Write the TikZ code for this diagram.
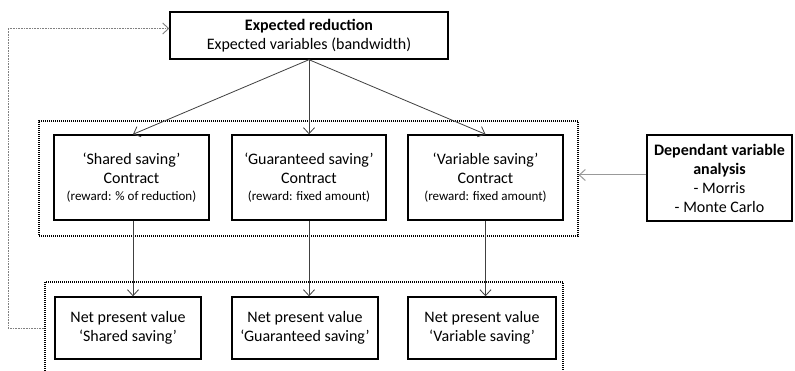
\documentclass[tikz,border=0pt]{standalone}
\usepackage{fontspec}
\setmainfont{Carlito}
\usetikzlibrary{arrows.meta}
\begin{document}
\begin{tikzpicture}[x=1pt,y=-1pt,
  box/.style={draw=black,line width=1.4pt,align=center,inner sep=0pt,
    font=\fontsize{16}{19}\selectfont},
  cont/.style={draw=black,line width=1.2pt,dash pattern=on 1pt off 1pt,inner sep=0pt},
  conn/.style={draw=black!75,line width=0.8pt,-{Straight Barb[length=6pt,width=11pt]}},
  gconn/.style={draw=black!40,line width=1pt,-{Straight Barb[length=6pt,width=11pt]}},
  fb/.style={draw=black!50,line width=0.9pt,dash pattern=on 1pt off 0.6pt,-{Straight Barb[length=6pt,width=11pt]}},
  sm/.style={}]
\useasboundingbox (0,0) rectangle (795,371);
\fill[white] (0,0) rectangle (795,371);
% containers
\node[cont,minimum width=539pt,minimum height=115pt] (c1) at (308.5,178.5) {};
\node[cont,minimum width=518pt,minimum height=120pt] (c2) at (304,342) {};
% top
\node[box,minimum width=278pt,minimum height=47pt] (top) at (309,35.5)
  {\textbf{Expected reduction}\\Expected variables (bandwidth)};
% contracts
\node[box,minimum width=155pt,minimum height=85pt] (sc) at (131.5,177.5)
  {‘Shared saving’\\Contract\\[-2pt]{\fontsize{13}{16}\selectfont (reward: \% of reduction)}};
\node[box,minimum width=154pt,minimum height=85pt] (gc) at (309,177.5)
  {‘Guaranteed saving’\\Contract\\[-2pt]{\fontsize{13}{16}\selectfont (reward: fixed amount)}};
\node[box,minimum width=155pt,minimum height=85pt] (vc) at (485.5,177.5)
  {‘Variable saving’\\Contract\\[-2pt]{\fontsize{13}{16}\selectfont (reward: fixed amount)}};
% dependant
\node[box,minimum width=145pt,minimum height=86pt] (dep) at (719.5,178)
  {\textbf{Dependant variable}\\\textbf{analysis}\\- Morris\\- Monte Carlo};
% NPV
\node[box,minimum width=146pt,minimum height=62pt] (n1) at (128,328)
  {Net present value\\‘Shared saving’};
\node[box,minimum width=146pt,minimum height=62pt] (n2) at (305,328)
  {Net present value\\‘Guaranteed saving’};
\node[box,minimum width=148pt,minimum height=62pt] (n3) at (482,328)
  {Net present value\\‘Variable saving’};
% connectors
\draw[conn] (top.south) -- ([xshift=1.5pt]sc.north);
\draw[conn] (top.south) -- (gc.north);
\draw[conn] (top.south) -- (vc.north);
\draw[conn] ([xshift=1.5pt]sc.south) -- ([xshift=1.5pt]sc.south |- n1.north);
\draw[conn] (gc.south) -- (gc.south |- n2.north);
\draw[conn] (vc.south) -- (vc.south |- n3.north);
\draw[gconn] ([yshift=3pt]dep.west) -- ([yshift=3pt]dep.west -| c1.east);
\coordinate (fbc) at (8,180);
\draw[fb] (c2.west |- n1.west) -| (fbc) |- ([yshift=7pt]top.west);
\end{tikzpicture}
\end{document}
